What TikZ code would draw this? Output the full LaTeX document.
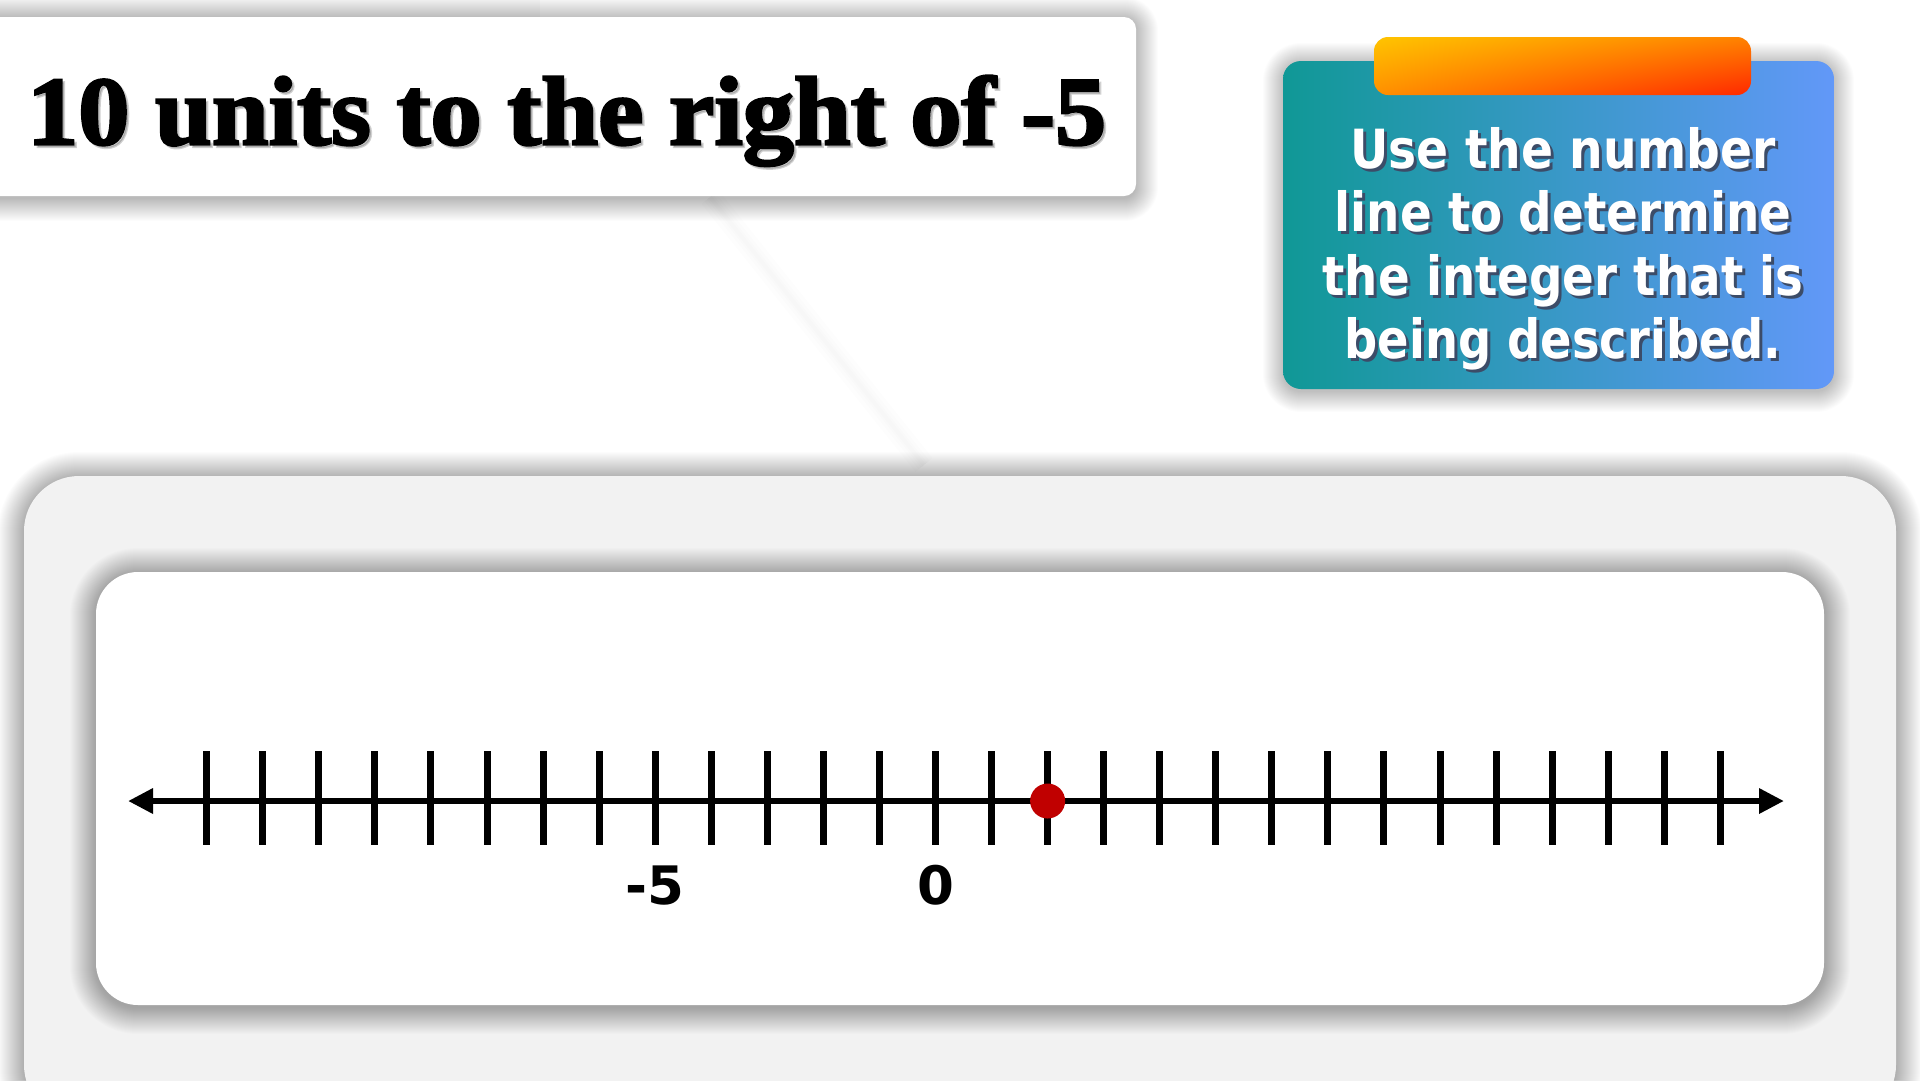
\documentclass[tikz,border=0pt]{standalone}
\usepackage{fontspec}
\usepackage{graphicx}
\newfontfamily\titlefont{Liberation Serif}[BoldFeatures={FakeBold=2.5}]
\newfontfamily\boxfont{DejaVu Sans}
\usetikzlibrary{arrows.meta,shadings}
\definecolor{tealL}{RGB}{16,152,150}
\definecolor{blueR}{RGB}{98,152,248}
\definecolor{tabY}{RGB}{255,196,0}
\definecolor{tabR}{RGB}{255,40,0}
\definecolor{tabM}{RGB}{255,130,0}
\definecolor{panelgray}{RGB}{242,242,242}
\definecolor{dotred}{RGB}{192,0,0}
\definecolor{txtshadow}{RGB}{60,76,104}
\newcommand\softshadow[6]{% x1 y1 x2 y2 radius layers (y measured downward)
  \foreach \k in {0,...,#6}{%
    \pgfmathsetmacro\rr{#5+\k}%
    \fill[black,opacity=0.013,rounded corners=\rr pt] (#1-\k,-#2+\k-2) rectangle (#3+\k,-#4-\k-3);}}
\tikzset{
  tickline/.style={line width=7pt},
  axisline/.style={line width=6.5pt,{Triangle[length=25pt,width=24pt]}-{Triangle[length=25pt,width=24pt]}},
  numlabel/.style={anchor=base,inner sep=0pt,font=\boxfont\bfseries\fontsize{53}{60}\selectfont},
  boxline/.style={anchor=base,inner sep=0pt,text=white},
  boxshadow/.style={anchor=base,inner sep=0pt,text=txtshadow},
}
\begin{document}
\begin{tikzpicture}[x=1pt,y=1pt]
\useasboundingbox (0,0) rectangle (1920,-1080);
\fill[white] (0,0) rectangle (1920,-1080);
% faint background diagonal
\foreach \w in {4,8,14,22}{
  \draw[black,opacity=0.008,line width=\w pt] (710,-197) -- (924,-465);}
\fill[black,opacity=0.02] (0,0) rectangle (540,-17);

% title box
\softshadow{-30}{17}{1136}{196}{12}{22}
\fill[white,rounded corners=12pt] (-30,-17) rectangle (1136,-196);
\node[anchor=base west,inner sep=0pt,text=black,opacity=0.18] (titleshadow) at (29.5,-147)
  {\resizebox{1079pt}{\height}{\titlefont\bfseries\fontsize{98}{100}\selectfont 10 units to the right of -5}};
\node[anchor=base west,inner sep=0pt] (title) at (27,-144.5)
  {\resizebox{1079pt}{\height}{\titlefont\bfseries\fontsize{98}{100}\selectfont 10 units to the right of -5}};

% instruction callout
\softshadow{1283}{61}{1834}{389}{18}{20}
\shade[left color=tealL,right color=blueR,rounded corners=18pt] (1283,-61) rectangle (1834,-389);
\shade[upper left=tabY,upper right=tabM,lower left=tabM!80!tabY,lower right=tabR,rounded corners=14pt] (1374,-37) rectangle (1751,-95);
\foreach \t/\w/\yy [count=\i] in {Use the number/425/168, line to determine/457/231, the integer that is/481/295, being described./437/358}{
  \node[boxshadow] (cs\i) at (1566,-\yy-3) {\resizebox{\w pt}{\height}{\boxfont\bfseries\fontsize{54}{60}\selectfont \t}};
  \node[boxline] (c\i) at (1563,-\yy) {\resizebox{\w pt}{\height}{\boxfont\bfseries\fontsize{54}{60}\selectfont \t}};
}

% outer gray panel
\softshadow{24}{476}{1896}{1120}{55}{26}
\fill[panelgray,rounded corners=55pt] (24,-476) rectangle (1896,-1120);
% inner white panel
\softshadow{96}{572}{1824}{1005}{42}{26}
\fill[white,rounded corners=42pt] (96,-572) rectangle (1824,-1005);

% number line
\coordinate (L) at (128,-801);
\coordinate (R) at (1784,-801);
\draw[axisline] (L) -- (R);
\foreach \n in {-13,...,14}{
  \coordinate (t\n) at ({935.5+56.06*\n},-801);
  \draw[tickline] ([yshift=50pt]t\n) -- ([yshift=-44pt]t\n);
}
\fill[dotred] (t2) circle (17.5pt);
\node[numlabel] (lm5) at ([yshift=-103pt]t-5) {-5};
\node[numlabel] (l0) at ([yshift=-103pt]t0) {0};
\end{tikzpicture}
\end{document}
